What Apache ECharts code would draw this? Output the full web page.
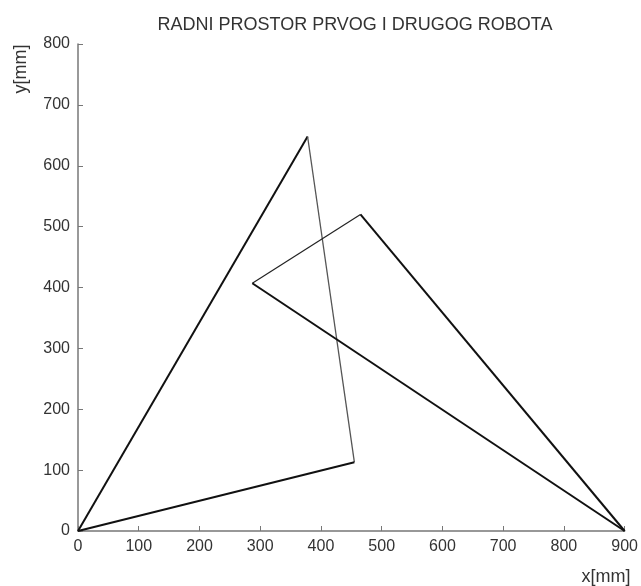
<!DOCTYPE html>
<html><head><meta charset="utf-8">
<script src="https://cdn.jsdelivr.net/npm/echarts@6/dist/echarts.min.js"></script>
<style>html,body{margin:0;padding:0;background:#fff}#c{width:641px;height:586px}</style>
</head><body><div id="c"></div>
<script>
// Robot 1 workspace triangle vertices (closed)
const robot1X = [0, 378, 455, 0];
const robot1Y = [0, 648, 113, 0];
// Robot 2 workspace triangle vertices (closed)
const robot2X = [900, 465, 287, 900];
const robot2Y = [0, 520, 407, 0];
// per-edge line widths / colours (style only)
const edgeStyle1 = [{w:2,c:'#111'},{w:1.3,c:'#555'},{w:2,c:'#111'}];
const edgeStyle2 = [{w:2,c:'#111'},{w:1.2,c:'#222'},{w:2,c:'#111'}];
const xTicks = [0,100,200,300,400,500,600,700,800,900];
const yTicks = [0,100,200,300,400,500,600,700,800];

const series = [];
function addEdges(xs, ys, styles){
  for(let i=0;i<xs.length-1;i++){
    series.push({type:'line', data:[[xs[i],ys[i]],[xs[i+1],ys[i+1]]], symbol:'none',
      lineStyle:{width:styles[i].w,color:styles[i].c}, silent:true, animation:false});
  }
}
addEdges(robot1X, robot1Y, edgeStyle1);
addEdges(robot2X, robot2Y, edgeStyle2);

const font = 'Liberation Sans, Arial, sans-serif';
const chart = echarts.init(document.getElementById('c'));
chart.setOption({
  animation:false,
  title:{text:'RADNI PROSTOR PRVOG I DRUGOG ROBOTA', left:350, textAlign:'center', top:11,
    textStyle:{fontSize:18, fontWeight:'normal', color:'#333', fontFamily:font}},
  grid:{left:78, right:13, top:44, bottom:55},
  graphic:[
    {type:'text', x:606, y:577, style:{text:'x[mm]', fill:'#333', font:'18px '+font, textAlign:'center', textVerticalAlign:'middle'}},
    {type:'text', x:21, y:69, rotation:Math.PI/2, style:{text:'y[mm]', fill:'#333', font:'18px '+font, textAlign:'center', textVerticalAlign:'middle'}}
  ],
  xAxis:{type:'value', min:xTicks[0], max:xTicks[xTicks.length-1], interval:100,
    axisLine:{lineStyle:{color:'#777',width:1.5}},
    axisTick:{inside:true,length:5,lineStyle:{color:'#777'}},
    axisLabel:{fontSize:16,color:'#333',fontFamily:font,margin:8},
    splitLine:{show:false}},
  yAxis:{type:'value', min:yTicks[0], max:yTicks[yTicks.length-1], interval:100,
    axisLine:{show:true,lineStyle:{color:'#777',width:1.5}},
    axisTick:{show:true,inside:true,length:5,lineStyle:{color:'#777'}},
    axisLabel:{fontSize:16,color:'#333',fontFamily:font,margin:8},
    splitLine:{show:false}},
  series: series
});
</script></body></html>
